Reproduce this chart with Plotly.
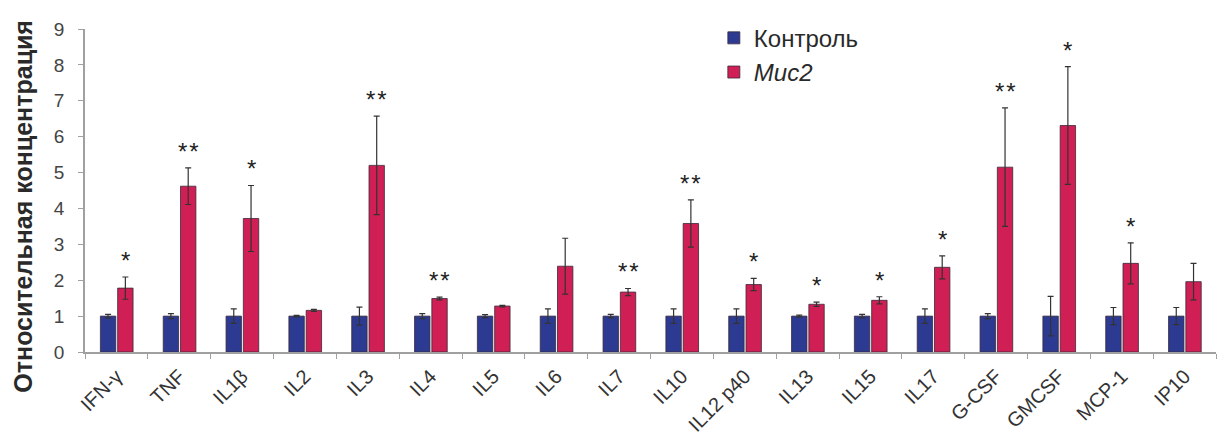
import plotly.graph_objects as go

categories = ["IFN-γ", "TNF", "IL1β", "IL2", "IL3", "IL4", "IL5", "IL6", "IL7",
              "IL10", "IL12 p40", "IL13", "IL15", "IL17", "G-CSF", "GMCSF", "MCP-1", "IP10"]
control_values = [1.0] * 18
control_err = [0.05, 0.07, 0.2, 0.02, 0.25, 0.07, 0.04, 0.2, 0.05,
               0.2, 0.2, 0.03, 0.05, 0.2, 0.07, 0.55, 0.24, 0.24]
muc2_values = [1.78, 4.62, 3.72, 1.16, 5.2, 1.49, 1.28, 2.39, 1.67,
               3.58, 1.88, 1.33, 1.44, 2.36, 5.15, 6.31, 2.47, 1.96]
muc2_err = [0.31, 0.51, 0.92, 0.03, 1.37, 0.04, 0.02, 0.78, 0.1,
            0.66, 0.17, 0.06, 0.1, 0.32, 1.65, 1.64, 0.57, 0.51]
significance = ["*", "**", "*", "", "**", "**", "", "", "**",
                "**", "*", "*", "*", "*", "**", "*", "*", ""]
y_ticks = list(range(0, 10))

FONT = "Liberation Sans, Arial, sans-serif"
BLUE = "#2c3a91"
RED = "#cf1f55"
EDGE = "#3a2a3a"
ERR = "#333333"
AXIS = "#a0a0a0"

BAR_W = 0.245
OFF_C = -0.255
OFF_M = 0.02

W, H = 1224, 436
ML, MR, MT, MB = 85, 8, 29, 84
plot_w = W - ML - MR
cat_px = plot_w / len(categories)

fig = go.Figure()
fig.add_trace(go.Bar(
    x=categories, y=control_values, name="Контроль",
    width=BAR_W, offset=OFF_C,
    marker=dict(color=BLUE, line=dict(color=EDGE, width=0.8)),
    error_y=dict(type="data", array=control_err, visible=True,
                 color=ERR, thickness=1.2, width=3),
    legendgroup="a",
))
fig.add_trace(go.Bar(
    x=categories, y=muc2_values, name="<i>Muc2</i>",
    width=BAR_W, offset=OFF_M,
    marker=dict(color=RED, line=dict(color=EDGE, width=0.8)),
    error_y=dict(type="data", array=muc2_err, visible=True,
                 color=ERR, thickness=1.2, width=3),
    legendgroup="b",
))

annotations = []
star_shift = (OFF_M + BAR_W / 2) * cat_px
for cat, v, e, s in zip(categories, muc2_values, muc2_err, significance):
    if s:
        annotations.append(dict(
            x=cat, y=v + e, xref="x", yref="y", text="\u200a".join(s), showarrow=False,
            xanchor="center", yanchor="bottom", xshift=star_shift, yshift=1,
            font=dict(family=FONT, size=24, color="#222222"),
        ))

annotations.append(dict(
    x=0, y=0.45, xref="paper", yref="paper", text="<b>Относительная концентрация</b>",
    textangle=-90, showarrow=False, xanchor="center", yanchor="middle", xshift=-62,
    font=dict(family=FONT, size=25, color="#2a2a2a"),
))

fig.update_layout(
    width=W, height=H,
    margin=dict(l=ML, r=MR, t=MT, b=MB, pad=0, autoexpand=False),
    paper_bgcolor="white", plot_bgcolor="white",
    barmode="overlay",
    showlegend=True,
    legend=dict(x=0.556, y=1.041, xanchor="left", yanchor="top",
                font=dict(family=FONT, size=24, color="#2a2a2a"),
                tracegroupgap=0, bgcolor="rgba(0,0,0,0)"),
    annotations=annotations,
    font=dict(family=FONT, color="#333333"),
)
fig.update_xaxes(
    type="category", range=[-0.5, len(categories) - 0.5],
    showline=True, linecolor=AXIS, linewidth=1.5,
    ticks="outside", tickson="boundaries", ticklen=5, tickcolor=AXIS,
    tickangle=-45, ticklabelstandoff=3, automargin=False,
    tickfont=dict(family=FONT, size=20, color="#333333"),
    showgrid=False, zeroline=False,
)
fig.update_yaxes(
    range=[0, 9], tickvals=y_ticks, automargin=False,
    showline=True, linecolor=AXIS, linewidth=1.5,
    ticks="outside", ticklen=5, tickcolor=AXIS,
    ticklabelstandoff=10,
    tickfont=dict(family=FONT, size=19, color="#444444"),
    showgrid=False, zeroline=False,
)

fig.write_html("out.html", config={"displayModeBar": False},
               post_script="document.body.style.margin='0';")
